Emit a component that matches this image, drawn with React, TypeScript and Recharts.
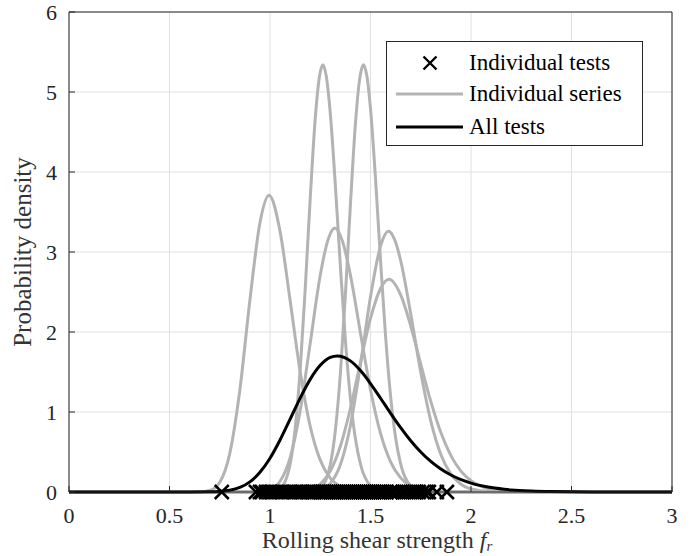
import { ComposedChart, Line, Scatter, XAxis, YAxis, CartesianGrid } from 'recharts'

// fitted densities of each test series
const s1x = [0, 0.6, 0.65, 0.7, 0.75, 0.8, 0.85, 0.9, 0.95, 0.995, 1.05, 1.1, 1.15, 1.2, 1.25, 1.3, 1.35, 1.4, 1.45, 1.5, 1.6, 3]
const s1y = [0, 0, 0.002, 0.019, 0.121, 0.482, 1.276, 2.397, 3.365, 3.71, 3.258, 2.397, 1.504, 0.822, 0.398, 0.173, 0.069, 0.025, 0.009, 0.003, 0, 0]

const s2x = [0, 0.95, 1.0, 1.05, 1.1, 1.125, 1.15, 1.175, 1.2, 1.225, 1.245, 1.263, 1.28, 1.3, 1.325, 1.35, 1.375, 1.4, 1.425, 1.45, 1.5, 1.55, 1.6, 3]
const s2y = [0, 0, 0.002, 0.041, 0.348, 0.787, 1.519, 2.53, 3.667, 4.665, 5.176, 5.34, 5.196, 4.732, 3.839, 2.828, 1.9, 1.171, 0.665, 0.35, 0.078, 0.013, 0.002, 0]

const s3x = [0, 1.2, 1.25, 1.3, 1.325, 1.35, 1.375, 1.4, 1.425, 1.445, 1.465, 1.485, 1.5, 1.525, 1.55, 1.575, 1.6, 1.625, 1.65, 1.7, 1.75, 1.8, 3]
const s3y = [0, 0, 0.042, 0.343, 0.767, 1.475, 2.462, 3.589, 4.602, 5.142, 5.34, 5.148, 4.791, 3.913, 2.894, 1.947, 1.198, 0.676, 0.352, 0.076, 0.012, 0.002, 0]

const s4x = [0, 0.9, 0.95, 1.0, 1.05, 1.1, 1.15, 1.2, 1.25, 1.29, 1.323, 1.36, 1.4, 1.45, 1.5, 1.55, 1.6, 1.65, 1.7, 1.8, 1.9, 3]
const s4y = [0, 0, 0.005, 0.03, 0.134, 0.427, 1.014, 1.858, 2.709, 3.162, 3.3, 3.139, 2.713, 1.987, 1.279, 0.733, 0.378, 0.177, 0.076, 0.011, 0.001, 0]

const s5x = [0, 1.2, 1.25, 1.3, 1.35, 1.4, 1.45, 1.5, 1.55, 1.59, 1.62, 1.65, 1.7, 1.75, 1.8, 1.85, 1.9, 1.95, 2.0, 2.1, 2.2, 3]
const s5y = [0, 0.003, 0.025, 0.106, 0.34, 0.829, 1.587, 2.44, 3.076, 3.26, 3.154, 2.894, 2.228, 1.496, 0.887, 0.469, 0.224, 0.097, 0.038, 0.005, 0.001, 0]

const s6x = [0, 1.1, 1.15, 1.2, 1.25, 1.3, 1.35, 1.4, 1.45, 1.5, 1.55, 1.592, 1.65, 1.7, 1.75, 1.8, 1.85, 1.9, 1.95, 2.0, 2.1, 2.2, 2.3, 3]
const s6y = [0, 0.001, 0.007, 0.029, 0.098, 0.262, 0.572, 1.044, 1.62, 2.169, 2.544, 2.66, 2.464, 2.078, 1.599, 1.132, 0.743, 0.455, 0.261, 0.141, 0.035, 0.007, 0.001, 0]

// density fitted to all tests together
const allX = [0, 0.6, 0.7, 0.75, 0.8, 0.85, 0.9, 0.95, 1.0, 1.05, 1.1, 1.15, 1.2, 1.25, 1.3, 1.335, 1.4, 1.45, 1.5, 1.55, 1.6, 1.65, 1.7, 1.75, 1.8, 1.85, 1.9, 2.0, 2.1, 2.2, 2.3, 2.4, 2.5, 2.6, 3]
const allY = [0, 0, 0.002, 0.007, 0.021, 0.057, 0.127, 0.246, 0.422, 0.65, 0.91, 1.174, 1.408, 1.583, 1.682, 1.7, 1.639, 1.518, 1.356, 1.172, 0.984, 0.804, 0.641, 0.5, 0.382, 0.287, 0.212, 0.111, 0.055, 0.026, 0.012, 0.005, 0.002, 0.001, 0]

// individual test results (strengths)
const tests = [
  0.76, 0.93, 0.95, 0.96, 0.98, 1.0, 1.01, 1.03, 1.05, 1.06, 1.08, 1.1,
  1.12, 1.13, 1.15, 1.16, 1.17, 1.19, 1.2, 1.21, 1.22, 1.24, 1.25, 1.26,
  1.27, 1.28, 1.29, 1.3, 1.31, 1.32, 1.33, 1.34, 1.35, 1.36, 1.37, 1.38,
  1.39, 1.4, 1.41, 1.42, 1.43, 1.44, 1.45, 1.46, 1.47, 1.48, 1.49, 1.5,
  1.51, 1.52, 1.53, 1.54, 1.55, 1.56, 1.57, 1.58, 1.6, 1.61, 1.62, 1.64,
  1.66, 1.67, 1.69, 1.71, 1.72, 1.74, 1.76, 1.78, 1.79, 1.83, 1.88,
]

const xTicks = [0, 0.5, 1, 1.5, 2, 2.5, 3]
const yTicks = [0, 1, 2, 3, 4, 5, 6]

const toPts = (xs: number[], ys: number[]) => xs.map((x, i) => ({ x, y: ys[i] }))
const grays = [toPts(s1x, s1y), toPts(s2x, s2y), toPts(s3x, s3y), toPts(s4x, s4y), toPts(s5x, s5y), toPts(s6x, s6y)]
const allData = toPts(allX, allY)
const testData = tests.map((x) => ({ x, y: 0 }))

const FONT = 'Liberation Serif, serif'
const GRAY = '#b3b3b3'
const AX = '#262626'

function Cross(props: any) {
  const { cx, cy } = props
  const r = 7
  return (
    <path
      d={`M${cx - r},${cy - r}L${cx + r},${cy + r}M${cx - r},${cy + r}L${cx + r},${cy - r}`}
      stroke="#000"
      strokeWidth={2.5}
      fill="none"
    />
  )
}

function XTick({ x, y, payload }: any) {
  return (
    <text x={x} y={y} dy="0.72em" textAnchor="middle" style={{ fontFamily: FONT, fontSize: 22 }} fill={AX}>
      {payload.value}
    </text>
  )
}

function YTick({ x, y, payload }: any) {
  return (
    <text x={x} y={y} dy="0.36em" textAnchor="end" style={{ fontFamily: FONT, fontSize: 22 }} fill={AX}>
      {payload.value}
    </text>
  )
}

export default function App() {
  return (
    <div style={{ position: 'absolute', left: 0, top: 0, width: 700, height: 556, background: '#fff', fontFamily: FONT }}>
      <ComposedChart width={700} height={556} margin={{ top: 11, right: 27, bottom: 24, left: 29 }}>
        <CartesianGrid stroke="#e0e0e0" vertical horizontal />
        <XAxis
          dataKey="x"
          type="number"
          domain={[0, 3]}
          ticks={xTicks}
          height={40}
          stroke={AX}
          tickSize={-6}
          tickMargin={21}
          tick={<XTick />}
        />
        <XAxis xAxisId="top" orientation="top" type="number" domain={[0, 3]} ticks={xTicks} height={1} stroke={AX} tickSize={-6} tick={false} />
        <YAxis
          type="number"
          domain={[0, 6]}
          ticks={yTicks}
          width={40}
          stroke={AX}
          tickSize={-6}
          tickMargin={18}
          tick={<YTick />}
        />
        <YAxis yAxisId="right" orientation="right" type="number" domain={[0, 6]} ticks={yTicks} width={1} stroke={AX} tickSize={-6} tick={false} />
        <Scatter data={testData} dataKey="y" shape={<Cross />} isAnimationActive={false} />
        {grays.map((d, i) => (
          <Line
            key={i}
            data={d}
            dataKey="y"
            type="monotone"
            stroke={GRAY}
            strokeWidth={3}
            dot={false}
            activeDot={false}
            isAnimationActive={false}
          />
        ))}
        <Line data={allData} dataKey="y" type="monotone" stroke="#000" strokeWidth={3} dot={false} activeDot={false} isAnimationActive={false} />
      </ComposedChart>

      {/* legend */}
      <div
        style={{
          position: 'absolute', left: 386, top: 41, width: 255, height: 103,
          border: `1px solid ${AX}`, background: '#fff', fontSize: 23, color: '#000',
        }}
      >
        {[
          { label: 'Individual tests', kind: 'cross' },
          { label: 'Individual series', kind: 'gray' },
          { label: 'All tests', kind: 'black' },
        ].map((r, i) => (
          <div key={r.label} style={{ position: 'absolute', left: 0, top: [21, 52, 85][i] - 14, height: 28, width: 255 }}>
            <svg width={80} height={28} style={{ position: 'absolute', left: 0, top: 0 }}>
              {r.kind === 'cross' ? (
                <path d="M36.5,7.5L49.5,20.5M36.5,20.5L49.5,7.5" stroke="#000" strokeWidth={2.4} fill="none" />
              ) : (
                <line x1={9} x2={76} y1={14} y2={14} stroke={r.kind === 'gray' ? GRAY : '#000'} strokeWidth={3} />
              )}
            </svg>
            <span style={{ position: 'absolute', left: 82, top: 0, lineHeight: '28px', whiteSpace: 'nowrap' }}>{r.label}</span>
          </div>
        ))}
      </div>

      {/* axis titles */}
      <div
        style={{
          position: 'absolute', left: 23, top: 252, transform: 'translate(-50%, -50%) rotate(-90deg)',
          whiteSpace: 'nowrap', fontSize: 25, lineHeight: '26px', color: '#333',
        }}
      >
        Probability density
      </div>
      <div
        style={{
          position: 'absolute', left: 377, top: 527, transform: 'translateX(-50%)',
          whiteSpace: 'nowrap', fontSize: 24, lineHeight: '26px', color: '#333',
        }}
      >
        Rolling shear strength <i>f</i>
        <span style={{ fontStyle: 'italic', fontSize: 15, position: 'relative', top: 3 }}>r</span>
      </div>
    </div>
  )
}
